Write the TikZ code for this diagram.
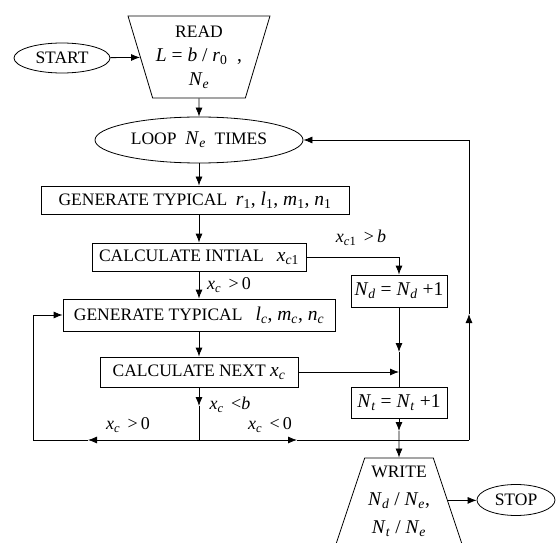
\documentclass[tikz,border=0pt]{standalone}
\usepackage{fontspec}
\setmainfont{Liberation Serif}
\usetikzlibrary{shapes.geometric, arrows.meta}
\newcommand{\vsub}[2]{\textit{#1}\textsubscript{#2}}
\newcommand{\mth}[1]{{\fontsize{19.5}{24}\selectfont #1}}

\begin{document}
\begin{tikzpicture}[x=1pt, y=-1pt, line width=0.8pt,
    every node/.style={font=\fontsize{17.5}{24}\selectfont},
    box/.style={rectangle, draw, minimum height=28pt, inner sep=2pt},
    term/.style={ellipse, draw, inner sep=1pt},
    io/.style={trapezium, draw, trapezium left angle=70, trapezium right angle=70,
      trapezium stretches=true, align=center, inner sep=0pt},
    lbl/.style={font=\fontsize{18}{20}\selectfont, inner sep=1pt},
    arr/.style={-{Latex[length=9pt, width=7pt]}}]
  \useasboundingbox (0,0) rectangle (558,543);
		\node at (62,58) [term, minimum width=96pt, minimum height=30pt] (start) {START};
		\node at (199,57) [io, shape border rotate=180, minimum width=142pt, minimum height=82pt] (read)
		  {READ\\ \mth{\textit{L} = \textit{b} / \vsub{r}{0}\ \ ,}\\ \mth{\vsub{N}{\textit{e}}}};
		\node at (199,140) [term, minimum width=208pt, minimum height=46pt] (loop) {LOOP\ \ \mth{\vsub{N}{\textit{e}}}\ \ TIMES};
		\node at (195,200) [box, minimum width=308pt] (gen1)
		  {GENERATE TYPICAL\ \ \mth{\vsub{r}{1},\ \vsub{l}{1},\ \vsub{m}{1},\ \vsub{n}{1}}};
		\node at (199,257) [box, minimum width=214pt] (cinit) {CALCULATE INTIAL\ \ \ \mth{\vsub{x}{\textit{c}1}}};
		\node at (199,315) [box, minimum width=272pt, minimum height=32pt] (gen2)
		  {GENERATE TYPICAL\ \ \ \mth{\vsub{l}{\textit{c}}, \vsub{m}{\textit{c}}, \vsub{n}{\textit{c}}}};
		\node at (199,372) [box, minimum width=198pt, minimum height=30pt] (cnext) {CALCULATE NEXT \mth{\vsub{x}{\textit{c}}}};
		\node at (399,291) [box, minimum width=96pt, minimum height=32pt] (nd) {\mth{\vsub{N}{\textit{d}} = \vsub{N}{\textit{d}} +1}};
		\node at (399,403) [box, minimum width=96pt, minimum height=31pt] (nt) {\mth{\vsub{N}{\textit{t}} = \vsub{N}{\textit{t}} +1}};
		\node at (399,501) [io, minimum width=126pt, minimum height=86pt, font=\fontsize{17.5}{28}\selectfont] (write)
		  {WRITE\\ \mth{\vsub{N}{\textit{d}} / \vsub{N}{\textit{e}},}\\ \mth{\vsub{N}{\textit{t}} / \vsub{N}{\textit{e}}}};
		\node at (516,500) [term, minimum width=78pt, minimum height=31pt] (stop) {STOP};
		% condition labels
		\node at (361,238) [lbl] (lcb) {\vsub{x}{\textit{c}1} \,>\,\textit{b}};
		\node at (229,285) [lbl] (lcp) {\vsub{x}{\textit{c}} \,>\,0};
		\node at (230,405) [lbl] (lcl) {\vsub{x}{\textit{c}} \,<\textit{b}};
		\node at (128,425) [lbl] (lgt) {\vsub{x}{\textit{c}} \,>\,0};
		\node at (270,425) [lbl] (llt) {\vsub{x}{\textit{c}} \,<\,0};
		% bends and mid arrows
		\coordinate (jn) at (199,440);
		\coordinate (am) at (199,406);
		\coordinate (lm) at (88,440);
		\coordinate (lc) at (33,440);
		\coordinate (rm) at (297,440);
		\coordinate (rc) at (469,440);
		\coordinate (ru) at (469,314);
		\coordinate (dm) at (399,352);
		\coordinate (nm) at (399,372);
		\coordinate (tm) at (399,431);
		\draw[arr] (start) -- (read);
		\draw[arr] (read.south) -- (loop.north);
		\draw[arr] (loop.south) -- (loop.south |- gen1.north);
		\draw[arr] (cinit.north |- gen1.south) -- (cinit.north);
		\draw[arr] (cinit.south) -- (gen2.north);
		\draw[arr] (gen2.south) -- (cnext.north);
		\draw[arr] (cnext.south) -- (am);
		\draw (am) -- (jn);
		\draw[arr] (jn) -- (lm);
		\draw[arr] (lm) -- (lc) |- (gen2.west);
		\draw[arr] (jn) -- (rm);
		\draw (rm) -- (rc);
		\draw[arr] (rc) -- (ru);
		\draw[arr] (ru) |- (loop.east);
		\draw[arr] (cinit.east) -| (nd.north);
		\draw[arr] (nd.south) -- (dm);
		\draw (dm) -- (nt.north);
		\draw[arr] (cnext.east) -- (nm);
		\draw[arr] (nt.south) -- (tm);
		\draw[arr] (tm) -- (write.north);
		\draw[arr] (write) -- (stop);
\end{tikzpicture}
\end{document}
